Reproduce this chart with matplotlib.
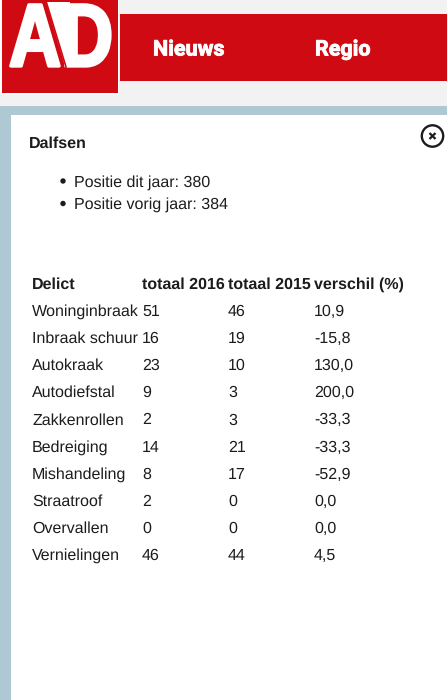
import matplotlib
matplotlib.use("Agg")
import matplotlib.pyplot as plt
from matplotlib.patches import Rectangle, Circle
from matplotlib.patheffects import AbstractPathEffect, withStroke
from matplotlib.transforms import Affine2D

W, H = 447, 700

logo_tekst = "AD"
nav_items = ["Nieuws", "Regio"]
plaats = "Dalfsen"
posities = ["Positie dit jaar: 380", "Positie vorig jaar: 384"]

kolommen = ["Delict", "totaal 2016", "totaal 2015", "verschil (%)"]
delicten = ["Woninginbraak", "Inbraak schuur", "Autokraak", "Autodiefstal", "Zakkenrollen",
            "Bedreiging", "Mishandeling", "Straatroof", "Overvallen", "Vernielingen"]
totaal_2016 = [51, 16, 23, 9, 2, 14, 8, 2, 0, 46]
totaal_2015 = [46, 19, 10, 3, 3, 21, 17, 0, 0, 44]
verschil = ["10,9", "-15,8", "130,0", "200,0", "-33,3", "-33,3", "-52,9", "0,0", "0,0", "4,5"]

RED = "#cf0a12"
TXT = "#1c1c1c"
FS = 11.3
plt.rcParams["font.family"] = ["Liberation Sans", "DejaVu Sans"]
plt.rcParams["text.hinting"] = "no_hinting"
plt.rcParams["text.hinting_factor"] = 1

# logo is smaller dan het font: letters horizontaal samendrukken en wat dikker maken
class Squeeze(AbstractPathEffect):
    def __init__(self, x0, sx, stroke):
        super().__init__()
        self.x0, self.sx, self.stroke = x0, sx, stroke

    def draw_path(self, renderer, gc, tpath, affine, rgbFace=None):
        a = affine + Affine2D().translate(-self.x0, 0).scale(self.sx, 1).translate(self.x0, 0)
        gc0 = renderer.new_gc()
        gc0.copy_properties(gc)
        gc0.set_linewidth(self.stroke)
        gc0.set_foreground("white")
        renderer.draw_path(gc0, tpath, a, rgbFace)
        gc0.restore()

fig = plt.figure(figsize=(W / 100, H / 100), dpi=100)
ax = fig.add_axes([0, 0, 1, 1])
ax.set_xlim(0, W)
ax.set_ylim(H, 0)
ax.axis("off")

def rect(x, y, w, h, color):
    ax.add_patch(Rectangle((x, y), w, h, facecolor=color, edgecolor="none"))

# pagina achtergrond
rect(0, 0, W, 106, "#f2f2f2")
rect(0, 106, W, H - 106, "#aec9d4")
rect(11, 115, W - 11, H - 115, "white")

# header
rect(0, 0, 119, 95, "white")
rect(2, 0, 116, 93, RED)
rect(120, 14, W - 120, 67, RED)
ax.text(9, 66, logo_tekst, color="white", fontsize=64, fontweight="bold", ha="left", va="baseline",
        path_effects=[Squeeze(9, 0.81, 2.4)], zorder=3)
ax.fill([46, 70, 70, 65], [2, 2, 66, 66], color="white", linewidth=0, zorder=3.5)
ax.plot([46, 66], [1, 67], color=RED, lw=1.2, zorder=4)
for label, x in zip(nav_items, [153, 315]):
    ax.text(x, 55.5, label, color="white", fontsize=15.5, fontweight="bold", family="Roboto",
            ha="left", va="baseline", path_effects=[withStroke(linewidth=0.6, foreground="white")])

# sluitknop
ax.add_patch(Circle((432.5, 136), 10.7, facecolor="none", edgecolor=TXT, linewidth=1.7))
ax.plot([429.5, 435.5], [133, 139], color=TXT, lw=1.6, solid_capstyle="butt")
ax.plot([429.5, 435.5], [139, 133], color=TXT, lw=1.6, solid_capstyle="butt")

# titel en lijst
ax.text(29, 147.5, plaats, color=TXT, fontsize=FS, fontweight="bold", ha="left", va="baseline")
for tekst, y in zip(posities, [186.5, 209]):
    ax.add_patch(Circle((63, y - 5.5), 2.7, facecolor=TXT, edgecolor="none"))
    ax.text(74, y, tekst, color=TXT, fontsize=FS, ha="left", va="baseline")

# tabel
kol_x = [32, 142, 228, 314]
for x, kop in zip(kol_x, kolommen):
    ax.text(x, 289, kop, color=TXT, fontsize=FS, fontweight="bold", ha="left", va="baseline")
for i, delict in enumerate(delicten):
    y = 316 + i * 27.1
    rij = [delict, totaal_2016[i], totaal_2015[i], verschil[i]]
    for x, waarde in zip(kol_x, rij):
        ax.text(x, y, str(waarde), color=TXT, fontsize=FS, ha="left", va="baseline")

fig.savefig("out.png", dpi=100)
